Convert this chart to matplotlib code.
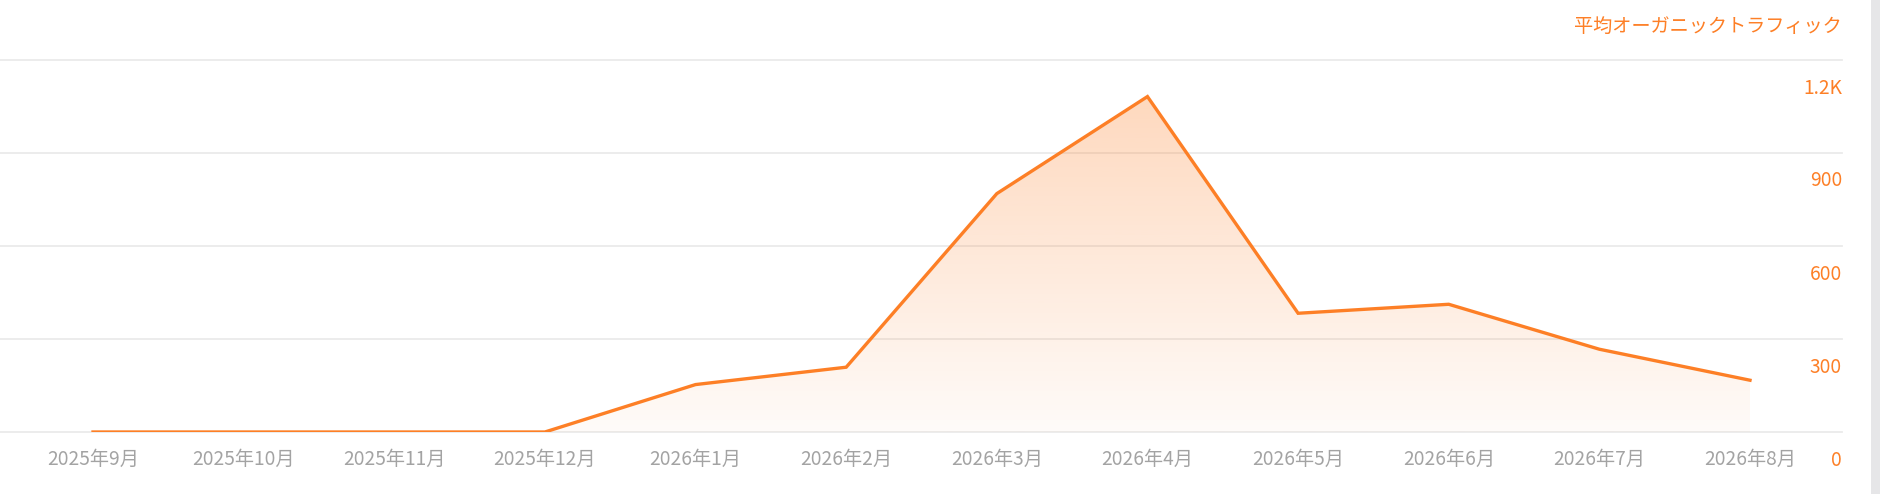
import numpy as np
import matplotlib
matplotlib.use("Agg")
import matplotlib.pyplot as plt
from matplotlib.patches import Polygon, Rectangle
import matplotlib.transforms as mtransforms

plt.rcParams['font.family'] = ['Noto Sans CJK JP', 'DejaVu Sans']

months = ['2025年9月', '2025年10月', '2025年11月', '2025年12月', '2026年1月', '2026年2月',
          '2026年3月', '2026年4月', '2026年5月', '2026年6月', '2026年7月', '2026年8月']
traffic = [0, 0, 0, 0, 153, 209, 769, 1082, 383, 412, 267, 167]
y_ticks = [0, 300, 600, 900, 1200]
y_tick_labels = ['0', '300', '600', '900', '1.2K']
series_title = 'å¹³åãªã¼ã¬ããã¯ãã©ãã£ãã¯'.encode('latin-1').decode('utf-8') if False else '平均オーガニックトラフィック'

orange = '#fd7f26'
W, H = 1880, 494
fig = plt.figure(figsize=(W / 100, H / 100), dpi=100)
fig.patch.set_facecolor('white')

# plot area in pixels: x 0..1842, y 60..432 (from top)
ax = fig.add_axes([0, (H - 432) / H, 1842 / W, (432 - 60) / H])
ax.set_facecolor('none')
x = np.arange(len(months))
x0, x1 = 93, 1750
step = (x1 - x0) / 11

for t in y_ticks:
    ax.axhline(t, color='#ebebeb', lw=1.3, zorder=1, clip_on=False)

# gradient fill under the line
ymax = max(traffic)
grad = np.linspace(0, 1, 256).reshape(-1, 1)
rgba = np.zeros((256, 1, 4))
rgba[..., 0] = 0xfd / 255
rgba[..., 1] = 0x7f / 255
rgba[..., 2] = 0x26 / 255
rgba[..., 3] = 0.03 + 0.27 * grad
img = ax.imshow(rgba, extent=[x[0], x[-1], 0, ymax], origin='lower',
                aspect='auto', zorder=2, interpolation='bilinear')
poly = Polygon(np.column_stack([np.r_[x[0], x, x[-1]], np.r_[0, traffic, 0]]),
               closed=True, facecolor='none', edgecolor='none')
ax.add_patch(poly)
img.set_clip_path(poly)

ax.plot(x, traffic, color=orange, lw=2.4, zorder=3, solid_joinstyle='miter')

ax.set_xlim(-x0 / step, (1842 - x0) / step)
ax.set_ylim(0, 1200)
for s in ax.spines.values():
    s.set_visible(False)
ax.set_yticks([])
ax.set_xticks([])

# month labels under the points
xoff = mtransforms.offset_copy(ax.get_xaxis_transform(), fig=fig, x=0, y=-27, units='dots')
for xi, lab in zip(x, months):
    ax.text(xi, 0, lab, transform=xoff, ha='center', va='center',
            fontsize=13.8, color='#a3a3a3', clip_on=False)

# y labels on the right, sitting just below their gridlines
yoff = mtransforms.offset_copy(ax.get_yaxis_transform(), fig=fig, x=0, y=-28, units='dots')
for t, lab in zip(y_ticks, y_tick_labels):
    ax.text(1.0, t, lab, transform=yoff, ha='right', va='center',
            fontsize=13.8, color=orange, clip_on=False)

fig.text(1842 / W, 1 - 26 / H, series_title, ha='right', va='center',
         fontsize=13.8, color=orange)

# grey strip at right edge
fig.patches.append(Rectangle((1871 / W, 0), 9 / W, 1, transform=fig.transFigure,
                             facecolor='#e6e6e8', edgecolor='none'))

fig.savefig('out.png', dpi=100)
